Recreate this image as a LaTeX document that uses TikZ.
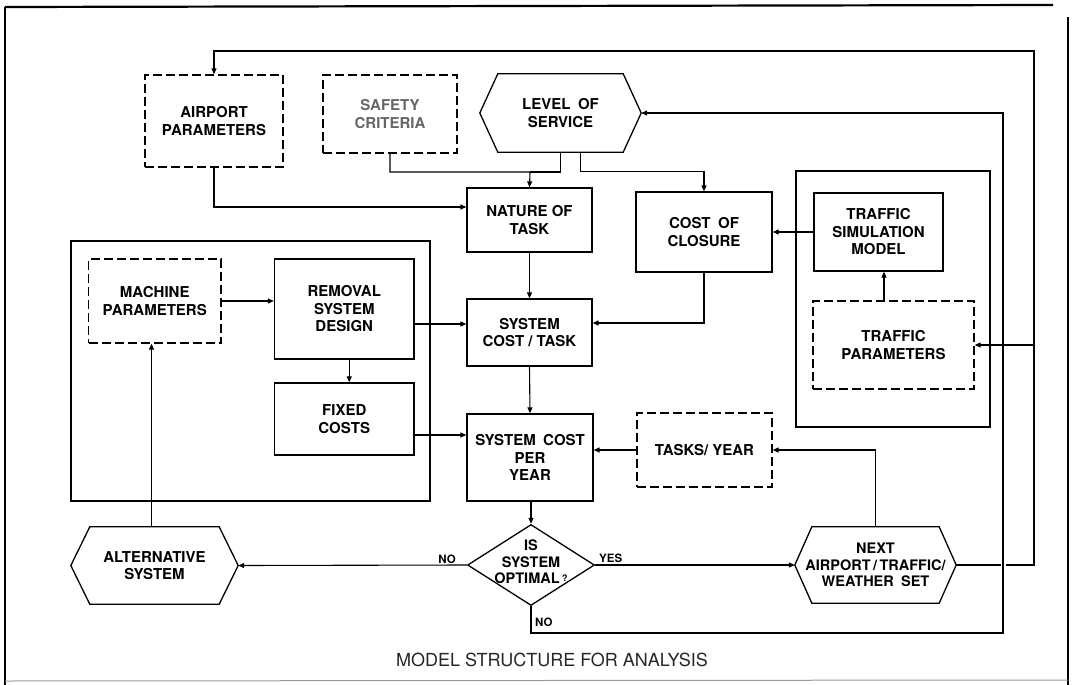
\documentclass[tikz,border=0pt]{standalone}
\usepackage{fontspec}
\setmainfont{TeX Gyre Heros}
\usetikzlibrary{arrows.meta,shapes.geometric,calc}
\newcommand{\lettfont}{\bfseries\fontsize{15}{17.5}\selectfont}
\newcommand{\nextfont}{\bfseries\fontsize{14.5}{16.5}\selectfont}
\newcommand{\smallfont}{\bfseries\fontsize{11.5}{13}\selectfont}
\newcommand{\hexshape}[2]{\draw[line width=1.3pt,line join=miter] (#1.west) -- ([xshift=#2]#1.north west) -- ([xshift=-#2]#1.north east) -- (#1.east) -- ([xshift=-#2]#1.south east) -- ([xshift=#2]#1.south west) -- cycle;}
\begin{document}
\begin{tikzpicture}[x=1pt,y=-1pt,
  box/.style={draw, line width=1.3pt, align=center, inner sep=0pt, font=\lettfont},
  dbox/.style={box, dash pattern=on 9pt off 4pt},
  grp/.style={draw, line width=2.6pt},
  hexn/.style={align=center, inner sep=0pt, font=\lettfont},
  conn/.style={line width=1.1pt},
  arr/.style={conn, -{Triangle[length=6pt,width=5pt]}},
  lbl/.style={font=\smallfont, inner sep=0pt},
]
\useasboundingbox (0,0) rectangle (1073,685);
% outer frame
\draw[line width=2.2pt] (5,7) -- (1053,5);
\draw[line width=2.4pt] (5,7) -- (5,685);
\draw[line width=2.4pt] (1068,17) -- (1068,685);
\draw[line width=1pt, black!40] (5,681) -- (1068,680);

% group frames
\draw[grp] (71,241) rectangle (430,501);
\draw[grp] (796,171) rectangle (990,427);

% boxes
\node[dbox, minimum width=138pt, minimum height=92pt] (airport) at (214,121) {AIRPORT\\PARAMETERS};
\node[dbox, minimum width=134pt, minimum height=78pt, text=black!60] (safety) at (390,114) {SAFETY\\CRITERIA};
\node[hexn, minimum width=161pt, minimum height=78pt] (los) at (560.5,113) {LEVEL\enspace OF\\SERVICE};
\hexshape{los}{18pt}
\node[box, minimum width=125pt, minimum height=64pt] (nature) at (529.5,220) {NATURE OF\\TASK};
\node[box, minimum width=136pt, minimum height=80pt] (cost) at (704,232) {COST\enspace OF\\CLOSURE};
\node[box, minimum width=129pt, minimum height=78pt] (tsm) at (878.5,232) {TRAFFIC\\SIMULATION\\MODEL};
\node[dbox, minimum width=161pt, minimum height=88pt] (tp) at (893.5,345) {TRAFFIC\\PARAMETERS};
\node[dbox, minimum width=132.5pt, minimum height=84pt] (machine) at (154.75,301) {MACHINE\\PARAMETERS};
\node[box, minimum width=139.5pt, minimum height=100pt] (removal) at (344.25,309) {REMOVAL\\SYSTEM\\DESIGN};
\node[box, minimum width=139.5pt, minimum height=72pt] (fixed) at (344.25,419) {FIXED\\COSTS};
\node[box, minimum width=125pt, minimum height=67pt] (syscost) at (529.5,332.5) {SYSTEM\\COST / TASK};
\node[box, minimum width=126pt, minimum height=87pt] (scpy) at (530,457.5) {SYSTEM\enspace COST\\PER\\YEAR};
\node[dbox, minimum width=135pt, minimum height=74pt] (ty) at (704.5,450) {TASKS/ YEAR};
\node[draw, diamond, line width=1.3pt, inner sep=0pt, minimum width=127pt, minimum height=81pt] (dia) at (531,565) {};
\node[hexn, font=\nextfont] (diatext) at (531,562) {IS\\SYSTEM\\OPTIMAL\,\raisebox{2pt}{\fontsize{9}{9}\selectfont ?}};
\node[hexn, minimum width=167pt, minimum height=77pt] (alt) at (154.5,565.5) {ALTERNATIVE\\SYSTEM};
\hexshape{alt}{19pt}
\node[hexn, font=\nextfont, minimum width=161pt, minimum height=76pt] (next) at (875.5,565) {NEXT\\AIRPORT\,/\,TRAFFIC/\\WEATHER\enspace SET};
\hexshape{next}{17pt}

% coordinates
\coordinate (j1) at (530,172);
\coordinate (c1) at (1003,633);
\coordinate (c2) at (1034,51);

% connectors
\draw[arr] (airport.south) |- ([yshift=13pt]nature.west);
\draw[arr] (safety.south) |- (j1) -- (nature.north);
\draw[conn] (los.south) |- (j1);
\draw[arr] ([xshift=20pt]los.south) |- ([yshift=20pt]cost.north) -- (cost.north);
\draw[arr] (nature.south) -- (syscost.north);
\draw[arr] (tsm.west) -- (cost.east);
\draw[arr] ([xshift=-9.5pt]tp.north) -- ([xshift=-9.5pt]tp.north |- tsm.south);
\draw[arr] (cost.south) |- ([yshift=9.5pt]syscost.east);
\draw[arr] (machine.east) -- (machine.east -| removal.west);
\draw[arr] ([yshift=-15pt]removal.east) coordinate (r1) -- (r1 -| syscost.west);
\draw[arr] ([xshift=5pt]removal.south) -- ([xshift=5pt]removal.south |- fixed.north);
\draw[arr] ([yshift=-16pt]fixed.east) coordinate (f1) -- (f1 -| scpy.west);
\draw[arr] (syscost.south) -- (scpy.north);
\draw[arr] (ty.west) -- (ty.west -| scpy.east);
\draw[arr] (scpy.south -| dia.north) -- (dia.north);
\draw[arr] (dia.west) -- (alt.east);
\draw[arr] (dia.east) -- (next.west);
\draw[arr] ([xshift=-3pt]alt.north) -- ([xshift=-3pt]alt.north |- machine.south);
\draw[arr] (next.north) |- (ty.east);
\draw[arr] (next.east) -| (c2) -| (airport.north);
\draw[arr] (tp.east -| c2) -- (tp.east);
\draw[line width=5pt, white] ([yshift=4pt]c1 |- next.east) -- ([yshift=-4pt]c1 |- next.east);
\draw[arr] (dia.south) |- (c1) |- (los.east);

% labels
\node[lbl, anchor=east] (nol) at (456,559) {NO};
\node[lbl, anchor=west] (yesl) at (599,558) {YES};
\node[lbl, anchor=west] (nob) at (535,622) {NO};
\node[font=\fontsize{18}{20}\selectfont, text=black!85, inner sep=0pt] (title) at (552,660) {MODEL STRUCTURE FOR ANALYSIS};
\end{tikzpicture}
\end{document}
